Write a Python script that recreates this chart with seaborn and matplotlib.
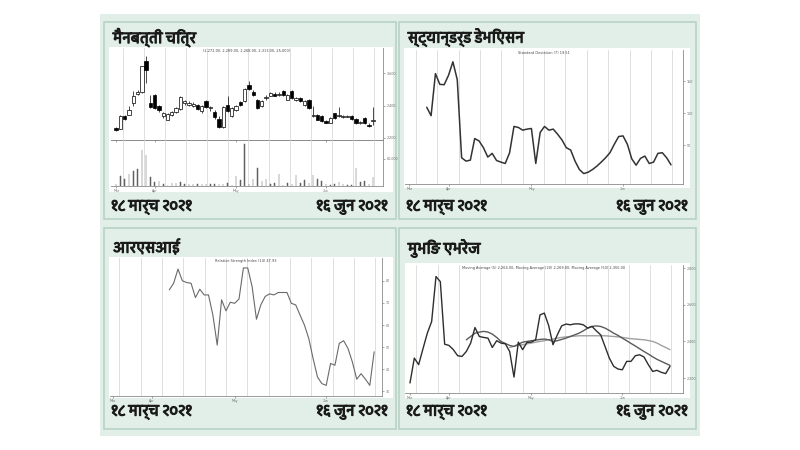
import numpy as np
import pandas as pd
import matplotlib
matplotlib.use("Agg")
import matplotlib.pyplot as plt
import seaborn as sns
from matplotlib.patches import Rectangle
from matplotlib import font_manager
from matplotlib.ft2font import FT2Font
import matplotlib.patheffects as pe

# ---------------- data ----------------
panel_titles = ["मैनबत्ती चित्र", "स्ट्यान्डर्ड डेभिएसन", "आरएसआई", "मुभिङ एभरेज"]
start_label = "१८ मार्च २०२१"
end_label = "१६ जुन २०२१"
month_ticks = [0, 9, 28, 49]
month_labels = ["Mar", "Apr", "May", "Jun"]

candle_open = [2262, 2256, 2338, 2344, 2417, 2474, 2482, 2674, 2417, 2468, 2396, 2334, 2313, 2344, 2359,
               2379, 2417, 2406, 2400, 2406, 2365, 2427, 2384, 2359, 2318, 2266, 2406, 2334, 2371, 2421,
               2427, 2530, 2487, 2437, 2396, 2445, 2462, 2474, 2466, 2489, 2437, 2493, 2433, 2447, 2406,
               2437, 2334, 2344, 2334, 2303, 2293, 2351, 2334, 2328, 2330, 2338, 2318, 2289, 2322, 2282, 2303]
candle_close = [2245, 2338, 2318, 2375, 2462, 2482, 2643, 2623, 2392, 2386, 2371, 2351, 2348, 2359, 2386,
                2454, 2427, 2417, 2412, 2379, 2396, 2392, 2388, 2330, 2266, 2392, 2365, 2386, 2400, 2402,
                2503, 2505, 2466, 2386, 2427, 2454, 2478, 2462, 2474, 2468, 2468, 2447, 2447, 2427, 2427,
                2386, 2344, 2313, 2303, 2293, 2324, 2324, 2344, 2338, 2338, 2318, 2289, 2297, 2289, 2272, 2313]
candle_high = [2268, 2344, 2342, 2396, 2489, 2495, 2647, 2709, 2468, 2474, 2406, 2359, 2355, 2365, 2392,
               2458, 2437, 2427, 2421, 2412, 2406, 2437, 2400, 2371, 2334, 2396, 2458, 2392, 2406, 2427,
               2509, 2555, 2495, 2443, 2433, 2468, 2485, 2482, 2482, 2495, 2474, 2499, 2454, 2454, 2433,
               2443, 2396, 2348, 2340, 2309, 2330, 2355, 2392, 2344, 2344, 2344, 2324, 2303, 2328, 2289, 2392]
candle_low = [2241, 2252, 2313, 2340, 2400, 2468, 2478, 2540, 2386, 2379, 2359, 2324, 2309, 2338, 2355,
              2375, 2406, 2400, 2392, 2371, 2351, 2386, 2365, 2318, 2262, 2262, 2359, 2330, 2365, 2396,
              2421, 2499, 2458, 2379, 2392, 2437, 2458, 2458, 2462, 2458, 2433, 2441, 2427, 2421, 2400,
              2379, 2330, 2309, 2299, 2289, 2289, 2318, 2330, 2324, 2326, 2313, 2285, 2285, 2285, 2268, 2276]
volume = [7000, 29000, 22000, 35000, 45000, 49000, 105000, 92000, 25000, 12000, 14000, 5000, 1000, 10000,
          10000, 12000, 7000, 7000, 5000, 5000, 7000, 5000, 5000, 5000, 7000, 5000, 9000, 2000, 29000,
          19000, 122000, 7000, 22000, 54000, 15000, 22000, 7000, 10000, 34000, 2000, 9000, 7000, 32000,
          9000, 19000, 10000, 32000, 21000, 14000, 5000, 2000, 5000, 12000, 5000, 2000, 2000, 52000,
          12000, 15000, 7000, 25000]

std_start = 4
std_dev = [109.5, 96.3, 162.1, 145.3, 144.7, 159.5, 180.5, 152.6, 30.5, 25.3, 26.8, 60.5, 56.8, 46.3, 31.6,
           37.4, 26.3, 23.7, 21.6, 38.4, 79.5, 77.9, 73.7, 75.3, 76.3, 21.6, 70.0, 79.5, 73.7, 75.3, 67.4,
           58.4, 46.3, 42.6, 25.3, 12.1, 5.8, 7.9, 12.1, 17.4, 23.7, 30.5, 38.4, 51.6, 63.7, 64.7, 51.6,
           28.9, 18.9, 29.5, 33.2, 21.6, 23.7, 37.4, 38.4, 30.5, 19.5]

rsi_start = 13
rsi = [75.9, 78.9, 85.3, 80.0, 79.2, 78.9, 72.4, 76.2, 73.6, 73.6, 64.5, 50.9, 71.4, 66.4, 70.3, 69.8, 71.8,
       85.8, 85.8, 77.4, 62.6, 69.1, 72.9, 74.1, 73.6, 74.7, 74.7, 74.7, 69.8, 69.1, 64.5, 60.0, 53.9, 44.8,
       36.5, 33.5, 32.7, 42.6, 41.8, 51.7, 52.9, 49.4, 43.3, 35.5, 38.0, 35.5, 32.7, 47.9]

close_price = [2173, 2309, 2273, 2360, 2445, 2509, 2755, 2727, 2385, 2378, 2355, 2322, 2318, 2345, 2391,
               2476, 2427, 2422, 2418, 2367, 2404, 2391, 2387, 2345, 2205, 2396, 2355, 2395, 2396, 2409,
               2545, 2555, 2487, 2382, 2436, 2485, 2495, 2491, 2496, 2496, 2491, 2473, 2482, 2458, 2436,
               2373, 2309, 2264, 2249, 2245, 2291, 2291, 2322, 2327, 2315, 2273, 2236, 2242, 2231, 2224, 2264]
ma_mid_start = 13
ma_mid = [2409, 2427, 2445, 2451, 2455, 2451, 2440, 2422, 2400, 2389, 2378, 2373, 2385, 2396, 2400, 2404,
          2407, 2411, 2413, 2409, 2400, 2404, 2411, 2418, 2427, 2436, 2445, 2458, 2473, 2482, 2485, 2482,
          2473, 2460, 2445, 2433, 2418, 2404, 2389, 2375, 2360, 2345, 2331, 2316, 2302, 2291, 2280, 2269]
ma_long_start = 23
ma_long = [2367, 2373, 2378, 2382, 2387, 2391, 2396, 2400, 2404, 2409, 2413, 2418, 2422, 2425, 2427, 2429,
           2431, 2431, 2431, 2431, 2431, 2431, 2431, 2429, 2427, 2425, 2422, 2418, 2415, 2413, 2411, 2409,
           2405, 2400, 2391, 2378, 2367, 2355]

small_titles = ["(2,272.00, 2,289.00, 2,268.00, 2,313.00, 25,000)",
                "Standard Deviation (7) 19.51",
                "Relative Strength Index (14) 47.93",
                "Moving Average (5) 2,264.00, Moving Average (20) 2,269.00, Moving Average (50) 2,355.00"]

# ---------------- style ----------------
sns.set_theme(style="white")


def find_devanagari_font():
    found = []
    for f in font_manager.fontManager.ttflist:
        try:
            cmap = FT2Font(f.fname).get_charmap()
        except Exception:
            continue
        if 0x092E in cmap and 0x0967 in cmap:
            found.append(f)
    if not found:
        return None
    found.sort(key=lambda f: (0 if "Devanagari" in f.name else 1,
                              0 if str(f.weight) in ("bold", "700", "600", "semibold") else 1))
    return found[0].name


deva = find_devanagari_font()
fam = [deva, "DejaVu Sans"] if deva else ["DejaVu Sans"]
plt.rcParams["font.family"] = fam

W, H = 800, 450
fig = plt.figure(figsize=(8, 4.5), dpi=100)
fig.patch.set_facecolor("white")

MINT = "#e1efe8"
BORDER = "#b9d2c6"
TXT = "#1a1a1a"
bold_fx = [pe.withStroke(linewidth=0.9, foreground=TXT)]


def frect(x0, y0, x1, y1, **kw):
    fig.add_artist(Rectangle((x0 / W, 1 - y1 / H), (x1 - x0) / W, (y1 - y0) / H,
                             transform=fig.transFigure, **kw))


def add_ax(x0, y0, x1, y1):
    ax = fig.add_axes([x0 / W, 1 - y1 / H, (x1 - x0) / W, (y1 - y0) / H])
    ax.set_zorder(10)
    return ax


# background board
frect(100, 14, 700, 436, facecolor=MINT, edgecolor="none", zorder=0)

panels = [
    dict(box=(104, 22, 396, 219), white=(109, 47, 393, 192), title_y=37, lab_y=207),
    dict(box=(399, 22, 696, 219), white=(404, 48, 690, 188), title_y=37, lab_y=207),
    dict(box=(104, 228, 396, 429), white=(109, 257, 393, 398), title_y=247, lab_y=412),
    dict(box=(399, 228, 696, 429), white=(405, 263, 690, 398), title_y=248, lab_y=412),
]
for p, t in zip(panels, panel_titles):
    bx = p["box"]
    frect(*bx, facecolor=MINT, edgecolor=BORDER, linewidth=1.2, zorder=1)
    frect(*p["white"], facecolor="white", edgecolor="none", zorder=2)
    fig.text((bx[0] + 9) / W, 1 - p["title_y"] / H, t, fontsize=10.5,
             color=TXT, ha="left", va="center", zorder=5, path_effects=bold_fx)
    fig.text((bx[0] + 7) / W, 1 - p["lab_y"] / H, start_label, fontsize=10.5,
             color=TXT, ha="left", va="center", zorder=5, path_effects=bold_fx)
    fig.text((bx[2] - 8) / W, 1 - p["lab_y"] / H, end_label, fontsize=10.5,
             color=TXT, ha="right", va="center", zorder=5, path_effects=bold_fx)


def style_ax(ax, xlim, show_x=True):
    ax.set_facecolor("none")
    ax.set_xlim(*xlim)
    for s in ("left", "top"):
        ax.spines[s].set_visible(False)
    for s in ("right", "bottom"):
        ax.spines[s].set_color("#8a8a8a")
        ax.spines[s].set_linewidth(0.6)
    ax.yaxis.tick_right()
    ax.tick_params(axis="both", labelsize=2.5, length=1.5, width=0.4, colors="#666",
                   pad=1, right=True, bottom=True)
    ax.xaxis.set_minor_locator(matplotlib.ticker.MultipleLocator(1))
    ax.tick_params(axis="x", which="minor", length=1, width=0.3, color="#888")
    ax.set_xticks(month_ticks)
    ax.set_xticklabels(month_labels if show_x else [])
    for g in np.arange(1.5, xlim[1], 4.9):
        ax.axvline(g, color="#d9d9d9", lw=0.6, zorder=0)
    ax.set_xlabel("")
    ax.set_ylabel("")


# ---------------- panel 1: candlestick ----------------
n = len(candle_open)
idx = np.arange(n)
o = np.array(candle_open, float)
c = np.array(candle_close, float)
hi = np.array(candle_high, float)
lo = np.array(candle_low, float)
xl1 = (-1.2, 62.3)

ax1 = add_ax(111, 48, 383, 140)
style_ax(ax1, xl1, show_x=False)
ax1.vlines(idx, lo, hi, color="black", lw=0.5, zorder=3)
body_bottom = np.minimum(o, c)
body_h = np.maximum(np.abs(c - o), 3)
up = c >= o
ax1.bar(idx, body_h, bottom=body_bottom, width=0.78,
        color=np.where(up, "white", "black"), edgecolor="black", linewidth=0.5, zorder=4)
ax1.set_ylim(2186, 2757)
ax1.set_yticks([2200, 2400, 2600])
ax1.set_yticklabels(["2,200", "2,400", "2,600"])
ax1.text(0.5, 0.985, small_titles[0], transform=ax1.transAxes, fontsize=2.5,
         ha="center", va="top", color="#444", family="DejaVu Sans")
ax1.spines["bottom"].set_color("#777")

axv = add_ax(111, 140, 383, 186)
vol_df = pd.DataFrame({"i": idx, "v": volume})
sns.barplot(data=vol_df, x="i", y="v", native_scale=True, color="#606060",
            width=0.12, ax=axv, zorder=3, edgecolor="#606060", linewidth=0.35,
            saturation=1)
style_ax(axv, xl1)
axv.set_ylim(0, 135000)
axv.set_yticks([80000])
axv.set_yticklabels(["80,000"])

# ---------------- panel 2: standard deviation ----------------
ax2 = add_ax(405, 50, 683, 184)
std_df = pd.DataFrame({"i": np.arange(std_start, std_start + len(std_dev)), "v": std_dev})
sns.lineplot(data=std_df, x="i", y="v", color="#333333", lw=1.1, ax=ax2, zorder=3)
style_ax(ax2, (-0.98, 62.75))
ax2.set_ylim(-10.5, 199)
ax2.set_yticks([50, 100, 150])
ax2.text(0.5, 0.99, small_titles[1], transform=ax2.transAxes, fontsize=2.5,
         ha="center", va="top", color="#444", family="DejaVu Sans")

# ---------------- panel 3: RSI ----------------
ax3 = add_ax(110, 258, 382, 396)
rsi_df = pd.DataFrame({"i": np.arange(rsi_start, rsi_start + len(rsi)), "v": rsi})
sns.lineplot(data=rsi_df, x="i", y="v", color="#6a6a6a", lw=0.8, ax=ax3, zorder=3)
style_ax(ax3, (-0.6, 61.8))
ax3.set_ylim(27.9, 90.3)
ax3.set_yticks([30, 40, 50, 60, 70, 80])
ax3.text(0.5, 0.995, small_titles[2], transform=ax3.transAxes, fontsize=2.5,
         ha="center", va="top", color="#444", family="DejaVu Sans")

# ---------------- panel 4: moving averages ----------------
ax4 = add_ax(405, 265, 683, 393)
close_df = pd.DataFrame({"i": idx, "v": close_price})
mid_df = pd.DataFrame({"i": np.arange(ma_mid_start, ma_mid_start + len(ma_mid)), "v": ma_mid})
long_df = pd.DataFrame({"i": np.arange(ma_long_start, ma_long_start + len(ma_long)), "v": ma_long})
sns.lineplot(data=long_df, x="i", y="v", color="#a0a0a0", lw=1.0, ax=ax4, zorder=3)
sns.lineplot(data=mid_df, x="i", y="v", color="#5a5a5a", lw=1.0, ax=ax4, zorder=3)
sns.lineplot(data=close_df, x="i", y="v", color="#2e2e2e", lw=1.0, ax=ax4, zorder=4)
style_ax(ax4, (-1.15, 63))
ax4.set_ylim(2118, 2818)
ax4.set_yticks([2200, 2400, 2600, 2800])
ax4.set_yticklabels(["2,200", "2,400", "2,600", "2,800"])
ax4.text(0.5, 0.99, small_titles[3], transform=ax4.transAxes, fontsize=2.5,
         ha="center", va="top", color="#444", family="DejaVu Sans")

fig.savefig("out.png", dpi=100, facecolor="white")
